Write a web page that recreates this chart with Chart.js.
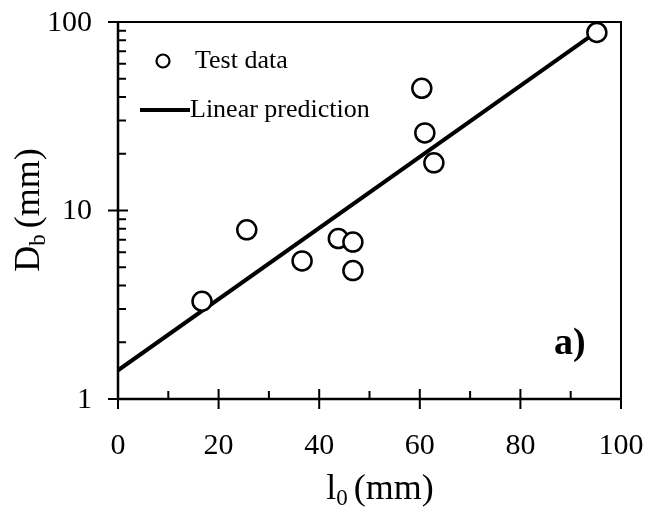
<!DOCTYPE html>
<html lang="en">
<head>
    <meta charset="UTF-8">
    <title>Db vs l0</title>
    <script src="https://cdn.jsdelivr.net/npm/chart.js"></script>
    <style>
        body {
            margin: 0;
            padding: 0;
            background: white;
        }
        #wrap {
            width: 646px;
            height: 511px;
        }
    </style>
</head>
<body>
    <div id="wrap"><canvas id="dbChart" width="646" height="511"></canvas></div>

    <script>
        // test data
        const testX = [16.7, 25.6, 36.6, 43.8, 46.7, 46.7, 60.4, 61.0, 62.8, 95.2];
        const testY = [3.3, 7.9, 5.4, 7.1, 6.8, 4.8, 44.5, 25.8, 17.9, 88];

        // linear prediction (straight line on the log plot)
        const lineX = [0, 95];
        const lineY = [1.42, 88];

        const xMajor = [0, 20, 40, 60, 80, 100];
        const xMinor = [10, 30, 50, 70, 90];
        const yMajor = [1, 10, 100];
        const yMinor = [2, 3, 4, 5, 6, 7, 8, 9, 20, 30, 40, 50, 60, 70, 80, 90];

        const serif = '"Liberation Serif", "Times New Roman", serif';

        const toPoints = (xs, ys) => xs.map((x, i) => ({ x: x, y: ys[i] }));

        // frame, inward ticks, tick labels, axis titles, legend and panel label
        const decorations = {
            id: 'decorations',
            afterDraw(chart) {
                const ctx = chart.ctx;
                const a = chart.chartArea;
                const xs = chart.scales.x;
                const ys = chart.scales.y;
                ctx.save();
                ctx.strokeStyle = 'black';
                ctx.fillStyle = 'black';

                // frame
                ctx.lineWidth = 2;
                ctx.strokeRect(a.left, a.top, a.right - a.left, a.bottom - a.top);
                ctx.lineWidth = 2.5;
                ctx.beginPath();
                ctx.moveTo(a.left, a.top);
                ctx.lineTo(a.left, a.bottom);
                ctx.lineTo(a.right, a.bottom);
                ctx.stroke();

                // ticks
                ctx.lineWidth = 2;
                ctx.beginPath();
                xMajor.forEach(v => {
                    const px = xs.getPixelForValue(v);
                    ctx.moveTo(px, a.bottom - 10);
                    ctx.lineTo(px, a.bottom + 10);
                });
                xMinor.forEach(v => {
                    const px = xs.getPixelForValue(v);
                    ctx.moveTo(px, a.bottom - 8);
                    ctx.lineTo(px, a.bottom);
                });
                yMajor.forEach(v => {
                    const py = ys.getPixelForValue(v);
                    ctx.moveTo(a.left - 10, py);
                    ctx.lineTo(a.left + 10, py);
                });
                yMinor.forEach(v => {
                    const py = ys.getPixelForValue(v);
                    ctx.moveTo(a.left, py);
                    ctx.lineTo(a.left + 8, py);
                });
                ctx.stroke();

                // tick labels
                ctx.font = '30px ' + serif;
                ctx.textBaseline = 'middle';
                ctx.textAlign = 'center';
                xMajor.forEach(v => {
                    ctx.fillText(String(v), xs.getPixelForValue(v), a.bottom + 47);
                });
                ctx.textAlign = 'right';
                yMajor.forEach(v => {
                    ctx.fillText(String(v), a.left - 26, ys.getPixelForValue(v) + 1);
                });

                // x axis title: l0 (mm)
                ctx.textBaseline = 'alphabetic';
                ctx.textAlign = 'left';
                const big = '36px ' + serif;
                const small = '23px ' + serif;
                const gap = 6;
                ctx.font = small;
                const subW = ctx.measureText('0').width;
                ctx.font = big;
                const lW = ctx.measureText('l').width;
                const restW = ctx.measureText('(mm)').width;
                const total = lW + subW + gap + restW;
                const x0 = 380 - total / 2;
                const base = 499;
                ctx.fillText('l', x0, base);
                ctx.font = small;
                ctx.fillText('0', x0 + lW, base + 6);
                ctx.font = big;
                ctx.fillText('(mm)', x0 + lW + subW + gap, base);

                // y axis title: Db (mm)
                ctx.save();
                ctx.translate(39, 210);
                ctx.rotate(-Math.PI / 2);
                ctx.font = big;
                const dW = ctx.measureText('D').width;
                const mmW = ctx.measureText('(mm)').width;
                ctx.font = small;
                const bW = ctx.measureText('b').width;
                const yTot = dW + bW + gap + mmW;
                const y0 = -yTot / 2;
                ctx.font = big;
                ctx.fillText('D', y0, 0);
                ctx.font = small;
                ctx.fillText('b', y0 + dW, 6);
                ctx.font = big;
                ctx.fillText('(mm)', y0 + dW + bW + gap, 0);
                ctx.restore();

                // legend
                ctx.lineWidth = 2.2;
                ctx.beginPath();
                ctx.arc(163, 61, 6.5, 0, Math.PI * 2);
                ctx.stroke();
                ctx.font = '26px ' + serif;
                ctx.fillText('Test data', 195, 68);
                ctx.lineWidth = 4;
                ctx.beginPath();
                ctx.moveTo(140, 110);
                ctx.lineTo(190, 110);
                ctx.stroke();
                ctx.fillText('Linear prediction', 190, 117);

                // panel label
                ctx.font = 'bold 38px ' + serif;
                ctx.fillText('a)', 554, 354);

                ctx.restore();
            }
        };

        const ctx = document.getElementById('dbChart').getContext('2d');
        const dbChart = new Chart(ctx, {
            type: 'scatter',
            data: {
                datasets: [{
                    label: 'Test data',
                    data: toPoints(testX, testY),
                    showLine: false,
                    pointRadius: 9.5,
                    pointBorderWidth: 2.5,
                    borderColor: 'black',
                    backgroundColor: 'white',
                    pointHoverRadius: 9.5
                }, {
                    label: 'Linear prediction',
                    data: toPoints(lineX, lineY),
                    showLine: true,
                    borderColor: 'black',
                    borderWidth: 4,
                    pointRadius: 0,
                    pointHoverRadius: 0
                }]
            },
            plugins: [decorations],
            options: {
                responsive: false,
                animation: false,
                layout: {
                    padding: { top: 22, right: 25, left: 118, bottom: 112 }
                },
                plugins: {
                    legend: { display: false },
                    tooltip: { enabled: false }
                },
                scales: {
                    x: {
                        type: 'linear',
                        min: 0,
                        max: 100,
                        grid: { display: false, drawTicks: false },
                        border: { display: false },
                        ticks: { display: false }
                    },
                    y: {
                        type: 'logarithmic',
                        min: 1,
                        max: 100,
                        grid: { display: false, drawTicks: false },
                        border: { display: false },
                        ticks: { display: false }
                    }
                }
            }
        });
    </script>
</body>
</html>
